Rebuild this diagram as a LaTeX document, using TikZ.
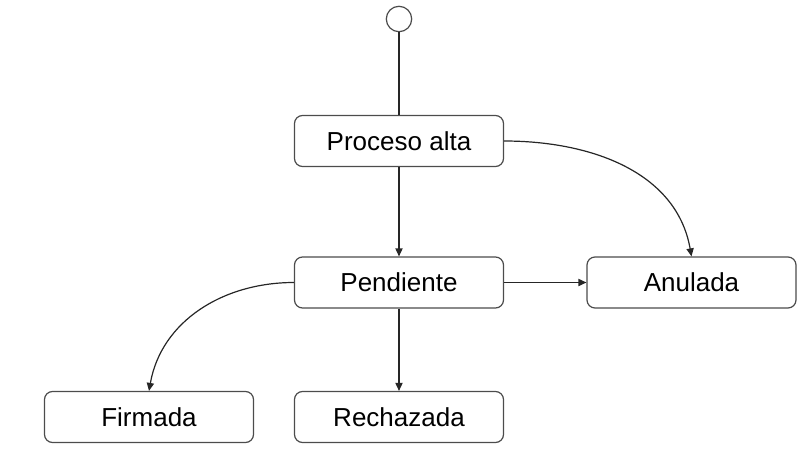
\documentclass[tikz,border=0pt]{standalone}
\usepackage{fontspec}
\setmainfont{Liberation Sans}
\usetikzlibrary{positioning,arrows.meta}

\begin{document}
\begin{tikzpicture}[x=0.5pt,y=-0.5pt,node distance=2cm,on grid,
		>={Triangle[length=4pt,width=3.6pt]},line width=0.6pt,
		estado/.style={draw=black!70,rounded corners=4pt,minimum width=104.5pt,minimum height=25.5pt,font=\fontsize{13}{15}\selectfont},
		inicial/.style={circle,draw=black!70,minimum size=12.7pt,inner sep=0pt}]
			\useasboundingbox (0,0) rectangle (800,450);
			\node[inicial] (ini) at (399,19) {};
			\node[estado] (alta) [below=61pt of ini] {Proceso alta};
			\node[estado] (pend) [below=70.75pt of alta] {Pendiente};
			\node[estado] (anul) [right=146.25pt of pend] {Anulada};
			\node[estado] (rech) [below=67.25pt of pend] {Rechazada};
			\node[estado] (firm) [below left=67.25pt and 125pt of pend] {Firmada};
			\draw[black!85] (ini) -- (alta);
			\path[->,black!85]
				(alta) edge (pend)
				(alta.east) edge[out=0,in=100] (anul.north)
				(pend) edge (anul)
				(pend) edge (rech)
				(pend.west) edge[out=180,in=80] (firm.north);
		\end{tikzpicture}
\end{document}
